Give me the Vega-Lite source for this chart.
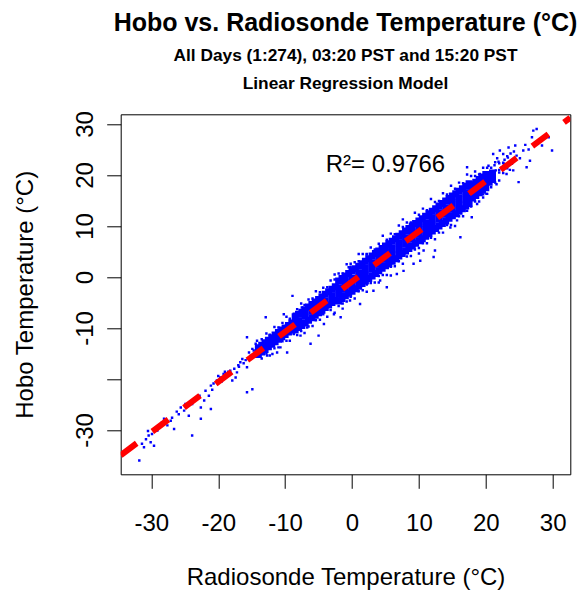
{
"$schema":"https://vega.github.io/schema/vega-lite/v6.json",
"width":449.6,"height":360,
"autosize":{"type":"none"},
"padding":{"left":120.7,"top":114.3,"right":17.7,"bottom":116.7},
"background":"white",
"title":{"text":"Hobo vs. Radiosonde Temperature (°C)","subtitle":["All Days (1:274), 03:20 PST and 15:20 PST","Linear Regression Model"],"font":"Liberation Sans","fontSize":25,"fontWeight":"bold","color":"black","subtitleFont":"Liberation Sans","subtitleFontSize":17.3,"subtitleFontWeight":"bold","subtitleColor":"black","subtitleLineHeight":28.3,"subtitlePadding":11,"anchor":"middle","offset":18},
"config":{"view":{"stroke":"black","strokeWidth":1},"font":"Liberation Sans",
"axis":{"grid":false,"domain":false,"tickColor":"black","tickWidth":1,"tickSize":14,"labelColor":"black","titleColor":"black","labelFont":"Liberation Sans","titleFont":"Liberation Sans","labelFontSize":24,"titleFontSize":24,"titleFontWeight":"normal","labelOverlap":false,"labelFlush":false,"labelBound":false}},
"datasets":{
"core":[
{"r":-14,"h":-15.2},{"r":-14,"h":-13.9},
{"r":-13,"h":-14.2},{"r":-13,"h":-12.9},
{"r":-12,"h":-13.2},{"r":-12,"h":-11.9},
{"r":-11,"h":-12.2},{"r":-11,"h":-10.9},
{"r":-10,"h":-11.3},{"r":-10,"h":-10.0},
{"r":-9,"h":-10.3},{"r":-9,"h":-9.0},
{"r":-8,"h":-9.9},{"r":-8,"h":-8.6},{"r":-8,"h":-7.3},
{"r":-7,"h":-9.0},{"r":-7,"h":-7.7},{"r":-7,"h":-6.4},
{"r":-6,"h":-8.0},{"r":-6,"h":-6.7},{"r":-6,"h":-5.4},
{"r":-5,"h":-7.0},{"r":-5,"h":-5.7},{"r":-5,"h":-4.4},
{"r":-4,"h":-6.0},{"r":-4,"h":-4.7},{"r":-4,"h":-3.4},
{"r":-3,"h":-5.0},{"r":-3,"h":-3.7},{"r":-3,"h":-2.4},
{"r":-2,"h":-4.7},{"r":-2,"h":-3.4},{"r":-2,"h":-2.1},{"r":-2,"h":-0.8},
{"r":-1,"h":-3.7},{"r":-1,"h":-2.4},{"r":-1,"h":-1.1},{"r":-1,"h":0.2},
{"r":0,"h":-2.8},{"r":0,"h":-1.5},{"r":0,"h":-0.2},{"r":0,"h":1.2},
{"r":1,"h":-1.8},{"r":1,"h":-0.5},{"r":1,"h":0.8},{"r":1,"h":2.1},
{"r":2,"h":-0.8},{"r":2,"h":0.5},{"r":2,"h":1.8},{"r":2,"h":3.1},
{"r":3,"h":0.2},{"r":3,"h":1.5},{"r":3,"h":2.8},{"r":3,"h":4.1},
{"r":4,"h":1.2},{"r":4,"h":2.5},{"r":4,"h":3.8},{"r":4,"h":5.1},
{"r":5,"h":2.2},{"r":5,"h":3.5},{"r":5,"h":4.8},{"r":5,"h":6.1},
{"r":6,"h":3.1},{"r":6,"h":4.4},{"r":6,"h":5.7},{"r":6,"h":7.0},
{"r":7,"h":4.1},{"r":7,"h":5.4},{"r":7,"h":6.7},{"r":7,"h":8.0},
{"r":8,"h":5.1},{"r":8,"h":6.4},{"r":8,"h":7.7},{"r":8,"h":9.0},
{"r":9,"h":6.1},{"r":9,"h":7.4},{"r":9,"h":8.7},{"r":9,"h":10.0},
{"r":10,"h":7.1},{"r":10,"h":8.4},{"r":10,"h":9.7},{"r":10,"h":11.0},
{"r":11,"h":8.0},{"r":11,"h":9.3},{"r":11,"h":10.6},{"r":11,"h":11.9},
{"r":12,"h":9.0},{"r":12,"h":10.3},{"r":12,"h":11.6},{"r":12,"h":12.9},
{"r":13,"h":10.0},{"r":13,"h":11.3},{"r":13,"h":12.6},{"r":13,"h":13.9},
{"r":14,"h":11.0},{"r":14,"h":12.3},{"r":14,"h":13.6},{"r":14,"h":14.9},
{"r":15,"h":12.0},{"r":15,"h":13.3},{"r":15,"h":14.6},{"r":15,"h":15.9},
{"r":16,"h":12.9},{"r":16,"h":14.2},{"r":16,"h":15.5},{"r":16,"h":16.8},
{"r":17,"h":13.9},{"r":17,"h":15.2},{"r":17,"h":16.5},{"r":17,"h":17.8},
{"r":18,"h":15.5},{"r":18,"h":16.8},{"r":18,"h":18.1},
{"r":19,"h":16.5},{"r":19,"h":17.8},{"r":19,"h":19.1},
{"r":20,"h":17.5},{"r":20,"h":18.8},{"r":20,"h":20.1},
{"r":21,"h":19.1},{"r":21,"h":20.4},
{"r":-13.5,"h":-14.7},{"r":-13.5,"h":-13.4},{"r":-12.5,"h":-13.7},{"r":-12.5,"h":-12.4},{"r":-11.5,"h":-12.7},{"r":-11.5,"h":-11.4},{"r":-10.5,"h":-11.7},{"r":-10.5,"h":-10.4},{"r":-9.5,"h":-10.8},{"r":-9.5,"h":-9.5},
{"r":-8.5,"h":-10.4},{"r":-8.5,"h":-7.8},{"r":-7.5,"h":-9.5},{"r":-7.5,"h":-6.9},{"r":-6.5,"h":-8.5},{"r":-6.5,"h":-5.9},{"r":-5.5,"h":-7.5},{"r":-5.5,"h":-4.9},{"r":-4.5,"h":-6.5},{"r":-4.5,"h":-3.9},{"r":-3.5,"h":-5.5},{"r":-3.5,"h":-2.9},{"r":-2.5,"h":-4.6},{"r":-2.5,"h":-1.9},
{"r":-1.5,"h":-4.2},{"r":-1.5,"h":-0.3},{"r":-0.5,"h":-3.2},{"r":-0.5,"h":0.7},{"r":0.5,"h":-2.3},{"r":0.5,"h":1.6},{"r":1.5,"h":-1.3},{"r":1.5,"h":2.6},{"r":2.5,"h":-0.3},{"r":2.5,"h":3.6},{"r":3.5,"h":0.7},{"r":3.5,"h":4.6},{"r":4.5,"h":1.7},{"r":4.5,"h":5.6},{"r":5.5,"h":2.6},{"r":5.5,"h":6.5},{"r":6.5,"h":3.6},{"r":6.5,"h":7.5},{"r":7.5,"h":4.6},{"r":7.5,"h":8.5},{"r":8.5,"h":5.6},{"r":8.5,"h":9.5},{"r":9.5,"h":6.6},{"r":9.5,"h":10.5},{"r":10.5,"h":7.5},{"r":10.5,"h":11.4},{"r":11.5,"h":8.5},{"r":11.5,"h":12.4},{"r":12.5,"h":9.5},{"r":12.5,"h":13.4},{"r":13.5,"h":10.5},{"r":13.5,"h":14.4},{"r":14.5,"h":11.5},{"r":14.5,"h":15.4},{"r":15.5,"h":12.4},{"r":15.5,"h":16.3},{"r":16.5,"h":13.4},{"r":16.5,"h":17.3},{"r":17.5,"h":14.4},{"r":17.5,"h":18.3},
{"r":18.5,"h":16.0},{"r":18.5,"h":18.6},{"r":19.5,"h":17.0},{"r":19.5,"h":19.6},{"r":20.5,"h":18.6},{"r":20.5,"h":19.9}
],
"pts":[
{"r":-31.8,"h":-36.0},{"r":-31.4,"h":-32.7},{"r":-31.1,"h":-33.4},{"r":-30.8,"h":-31.8},{"r":-30.4,"h":-31.1},{"r":-30.1,"h":-32.4},{"r":-29.6,"h":-33.1},{"r":-29.9,"h":-30.8},{"r":-29.1,"h":-30.1},{"r":-28.4,"h":-28.5},{"r":-28.1,"h":-27.8},{"r":-27.6,"h":-29.1},{"r":-27.1,"h":-28.2},{"r":-26.6,"h":-29.8},{"r":-25.9,"h":-26.9},{"r":-25.6,"h":-25.6},{"r":-25.1,"h":-26.2},{"r":-24.9,"h":-24.9},{"r":-24.4,"h":-27.2},{"r":-23.9,"h":-31.1},{"r":-23.9,"h":-24.9},{"r":-23.4,"h":-23.9},{"r":-22.6,"h":-27.8},{"r":-22.6,"h":-25.6},{"r":-22.1,"h":-24.2},{"r":-21.9,"h":-22.3},{"r":-21.4,"h":-23.3},{"r":-21.1,"h":-25.9},{"r":-21.1,"h":-21.3},{"r":-20.7,"h":-20.9},{"r":-20.2,"h":-20.3},{"r":-19.7,"h":-19.7},{"r":-19.2,"h":-19.0},{"r":-18.7,"h":-19.3},{"r":-18.2,"h":-18.4},{"r":-17.9,"h":-20.3},{"r":-17.4,"h":-19.7},{"r":-17.2,"h":-18.7},{"r":-16.7,"h":-16.7},{"r":-16.4,"h":-16.1},{"r":-15.7,"h":-17.7},{"r":-15.7,"h":-22.6},{"r":-14.9,"h":-22.0},{"r":-15.4,"h":-14.8},{"r":-14.9,"h":-14.1},{"r":-15.7,"h":-11.8},{"r":-14.4,"h":-13.1},{"r":-14.2,"h":-12.5},{"r":-13.7,"h":-13.8},{"r":-12.7,"h":-15.4},{"r":-12.7,"h":-13.1},{"r":-12.9,"h":-7.9},{"r":-11.9,"h":-15.1},{"r":-11.2,"h":-14.8},{"r":-10.7,"h":-13.8},{"r":-10.2,"h":-7.3},{"r":-9.7,"h":-14.8},{"r":-8.9,"h":-3.7},{"r":-8.7,"h":-11.2},{"r":-7.7,"h":-11.5},{"r":-7.5,"h":-6.0},{"r":-6.7,"h":-9.9},{"r":-6.2,"h":-13.1},{"r":-5.7,"h":-8.2},{"r":-5.0,"h":-11.5},{"r":-4.7,"h":-4.6},{"r":-4.2,"h":-9.2},{"r":-2.7,"h":-7.3},{"r":-1.7,"h":-7.9},{"r":-0.5,"h":1.9},{"r":-0.3,"h":-4.6},{"r":0.7,"h":-2.7},{"r":1.2,"h":-5.3},{"r":2.2,"h":4.5},{"r":3.2,"h":-2.7},{"r":4.2,"h":-0.7},{"r":5.2,"h":-2.0},{"r":5.2,"h":5.8},{"r":6.7,"h":0.6},{"r":7.7,"h":1.2},{"r":9.2,"h":2.6},{"r":10.2,"h":3.2},{"r":10.7,"h":5.2},{"r":12.2,"h":3.9},{"r":12.4,"h":5.2},{"r":14.7,"h":9.7},{"r":15.7,"h":11.1},{"r":16.2,"h":7.8},{"r":17.2,"h":21.5},{"r":17.9,"h":11.7},{"r":18.7,"h":14.3},{"r":19.1,"h":20.2},{"r":19.6,"h":15.6},{"r":20.1,"h":16.3},{"r":20.6,"h":20.2},{"r":21.1,"h":24.1},{"r":21.6,"h":18.2},{"r":22.1,"h":24.8},{"r":22.6,"h":24.1},{"r":23.1,"h":20.2},{"r":23.4,"h":25.4},{"r":23.9,"h":22.2},{"r":24.1,"h":20.9},{"r":24.4,"h":25.8},{"r":24.6,"h":23.8},{"r":24.9,"h":18.6},{"r":25.6,"h":24.8},{"r":26.1,"h":21.5},{"r":26.6,"h":22.8},{"r":26.9,"h":27.4},{"r":27.1,"h":28.7},{"r":27.6,"h":29.0},{"r":28.4,"h":25.8},{"r":29.9,"h":24.8},{"r":29.4,"h":27.4},
{"r":21.3,"h":21.9},{"r":21.9,"h":22.6},{"r":22.4,"h":21.5},{"r":22.8,"h":23.0},{"r":23.3,"h":23.4},{"r":23.7,"h":24.2},{"r":22.0,"h":20.5},{"r":21.5,"h":20.9},{"r":20.9,"h":19.5},{"r":20.4,"h":21.8},{"r":24.2,"h":24.6},{"r":25.1,"h":23.3},{"r":23.6,"h":21.0},{"r":25.9,"h":25.9},{"r":26.4,"h":25.0},{"r":22.7,"h":22.2},{"r":21.7,"h":23.3},
{"r":-16.9,"h":-17.6},{"r":-16.2,"h":-16.9},{"r":-15.9,"h":-16.3},{"r":-15.2,"h":-15.5},{"r":-14.6,"h":-15.1},{"r":-14.7,"h":-14.4},{"r":-17.6,"h":-18.0},{"r":-18.5,"h":-18.6},{"r":-19.5,"h":-20.5},{"r":-20.0,"h":-19.4},{"r":-22.8,"h":-23.3},{"r":-24.2,"h":-24.5},{"r":-26.2,"h":-26.4},{"r":-28.8,"h":-29.5},{"r":-30.5,"h":-30.2},{"r":-26.9,"h":-27.6},{"r":-23.0,"h":-23.6},{"r":-20.9,"h":-22.1},{"r":-19.0,"h":-18.6},{"r":-17.0,"h":-17.3},
{"r":-13.5,"h":-12.2},{"r":-13.5,"h":-16.0},{"r":-12.8,"h":-11.1},{"r":-12.8,"h":-15.0},{"r":-12.3,"h":-11.3},{"r":-12.3,"h":-15.4},{"r":-11.6,"h":-9.8},{"r":-11.6,"h":-14.0},{"r":-11.0,"h":-9.9},{"r":-11.0,"h":-13.8},{"r":-10.4,"h":-9.0},{"r":-10.4,"h":-12.6},{"r":-9.8,"h":-7.8},{"r":-9.8,"h":-12.5},{"r":-9.3,"h":-8.2},{"r":-9.3,"h":-12.5},{"r":-8.7,"h":-7.2},{"r":-8.7,"h":-11.1},
{"r":-8.2,"h":-6.3},{"r":-8.2,"h":-11.4},{"r":-7.6,"h":-5.2},{"r":-7.6,"h":-10.6},{"r":-7.1,"h":-5.5},{"r":-7.1,"h":-11.0},{"r":-6.5,"h":-4.4},{"r":-6.5,"h":-9.7},{"r":-5.9,"h":-4.2},{"r":-5.9,"h":-9.6},{"r":-5.4,"h":-2.8},{"r":-5.4,"h":-8.5},{"r":-4.8,"h":-3.0},{"r":-4.8,"h":-8.4},{"r":-4.3,"h":-2.1},{"r":-4.3,"h":-7.3},{"r":-3.7,"h":-2.0},{"r":-3.7,"h":-7.8},{"r":-3.2,"h":-0.7},{"r":-3.2,"h":-6.5},
{"r":-2.6,"h":-0.5},{"r":-2.6,"h":-7.0},{"r":-2.6,"h":0.5},{"r":-2.0,"h":0.7},{"r":-2.0,"h":-5.7},{"r":-1.4,"h":0.7},{"r":-1.4,"h":-6.2},{"r":-1.4,"h":-5.2},{"r":-0.8,"h":2.5},{"r":-0.8,"h":-4.8},{"r":-0.2,"h":2.0},{"r":-0.2,"h":-3.9},{"r":-0.2,"h":2.6},{"r":0.4,"h":2.9},{"r":0.4,"h":-4.2},{"r":1.0,"h":3.1},{"r":1.0,"h":-2.8},{"r":1.0,"h":4.5},{"r":1.6,"h":4.5},{"r":1.6,"h":-2.6},{"r":2.2,"h":4.4},{"r":2.2,"h":-2.9},{"r":2.2,"h":-1.5},{"r":2.8,"h":5.8},{"r":2.8,"h":-1.2},{"r":3.4,"h":5.4},{"r":3.4,"h":-1.1},{"r":4.0,"h":6.5},{"r":4.0,"h":0.2},{"r":4.0,"h":-1.1},{"r":4.6,"h":8.1},{"r":4.6,"h":0.4},{"r":5.2,"h":7.3},{"r":5.2,"h":0.4},{"r":5.8,"h":8.5},{"r":5.8,"h":2.0},{"r":5.8,"h":0.3},{"r":6.4,"h":8.4},{"r":6.4,"h":2.1},{"r":7.0,"h":10.1},{"r":7.0,"h":3.1},{"r":7.6,"h":9.8},{"r":7.6,"h":2.6},{"r":7.6,"h":11.3},{"r":8.2,"h":10.7},{"r":8.2,"h":4.0},{"r":8.8,"h":10.7},{"r":8.8,"h":4.1},{"r":9.4,"h":12.6},{"r":9.4,"h":5.4},{"r":10.0,"h":12.2},{"r":10.0,"h":4.6},{"r":10.0,"h":5.7},{"r":10.6,"h":13.4},{"r":10.6,"h":6.6},{"r":11.2,"h":13.1},{"r":11.2,"h":6.6},{"r":11.8,"h":15.3},{"r":11.8,"h":7.7},{"r":12.4,"h":14.7},{"r":12.4,"h":7.4},{"r":13.0,"h":14.9},{"r":13.0,"h":8.7},{"r":13.6,"h":16.4},{"r":13.6,"h":8.7},{"r":14.2,"h":16.2},{"r":14.2,"h":10.2},{"r":14.8,"h":17.9},{"r":14.8,"h":10.2},{"r":15.4,"h":17.3},{"r":15.4,"h":10.0},{"r":16.0,"h":18.5},{"r":16.0,"h":11.9},{"r":16.6,"h":18.4},{"r":16.6,"h":11.9},{"r":17.2,"h":20.1},{"r":17.2,"h":13.0},{"r":17.8,"h":19.8},{"r":17.8,"h":13.8},
{"r":18.4,"h":19.8},{"r":18.4,"h":14.8},{"r":18.4,"h":20.7},{"r":19.0,"h":20.1},{"r":19.0,"h":14.8},{"r":19.6,"h":21.4},{"r":19.6,"h":16.2},{"r":20.2,"h":21.4},{"r":20.2,"h":16.3},{"r":20.8,"h":21.4},{"r":20.8,"h":17.6},{"r":21.4,"h":22.5},{"r":21.4,"h":18.5},{"r":22.0,"h":22.3},{"r":22.0,"h":18.9},{"r":22.0,"h":21.0},{"r":22.6,"h":22.4},{"r":22.6,"h":20.4},{"r":23.2,"h":23.7},{"r":23.2,"h":21.3}
],
"fit":[{"r":-34.58,"h":-34.96},{"r":32.63,"h":31.24}],
"lab":[{"r":5.0,"h":20.5,"t":"R²= 0.9766"}]
},
"layer":[
{"data":{"name":"core"},"mark":{"type":"point","shape":"square","filled":true,"size":49,"color":"#0000FF","opacity":1,"strokeWidth":0,"clip":true},
"encoding":{
"x":{"field":"r","type":"quantitative","scale":{"domain":[-34.58,32.63],"nice":false,"zero":false},"title":"Radiosonde Temperature (°C)","axis":{"values":[-30,-20,-10,0,10,20,30],"labelExpr":"'' + datum.value","labelPadding":23,"titlePadding":30}},
"y":{"field":"h","type":"quantitative","scale":{"domain":[-38.69,31.9],"nice":false,"zero":false},"title":"Hobo Temperature (°C)","axis":{"values":[-30,-20,-10,0,10,20,30],"labelExpr":"datum.value == -20 ? '' : '' + datum.value","labelAngle":-90,"labelAlign":"center","labelBaseline":"bottom","labelPadding":9,"titlePadding":36}}}},
{"data":{"name":"pts"},"mark":{"type":"point","shape":"square","filled":true,"size":6,"color":"#0000FF","opacity":1,"strokeWidth":0,"clip":true},
"encoding":{"x":{"field":"r","type":"quantitative"},"y":{"field":"h","type":"quantitative"}}},
{"data":{"name":"fit"},"mark":{"type":"line","color":"#FF0000","strokeWidth":6,"strokeDash":[20,19.6],"strokeCap":"butt","clip":true},
"encoding":{"x":{"field":"r","type":"quantitative"},"y":{"field":"h","type":"quantitative"}}},
{"data":{"name":"lab"},"mark":{"type":"text","fontSize":24,"align":"center","baseline":"alphabetic","color":"black","font":"Liberation Sans"},
"encoding":{"x":{"field":"r","type":"quantitative"},"y":{"field":"h","type":"quantitative"},"text":{"field":"t"}}}
]
}
